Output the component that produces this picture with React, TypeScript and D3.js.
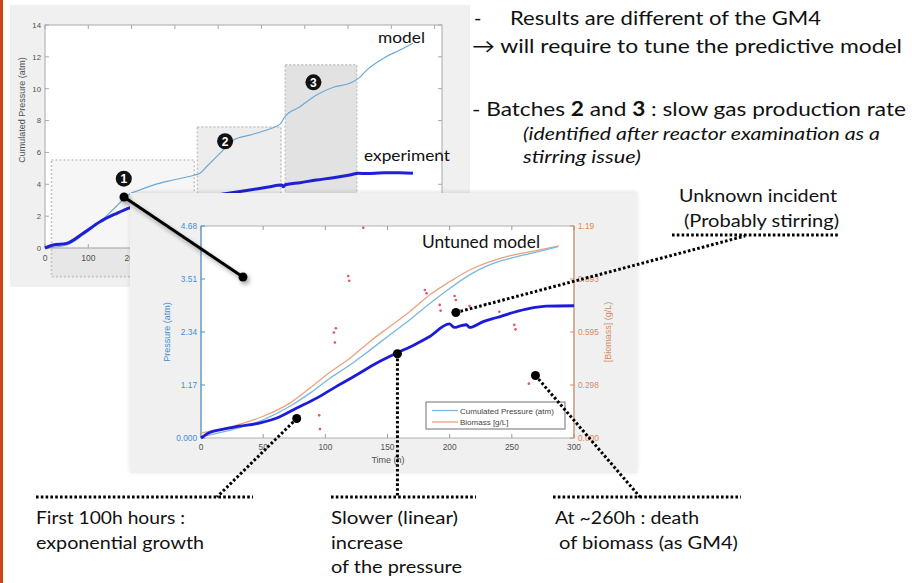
import React from "react";
import * as d3 from "d3";

// ---------- Upper chart (all batches) ----------
const upperXTicks = [0, 100, 200, 300, 400, 500, 600, 700, 800, 900];
const upperYTicks = [0, 2, 4, 6, 8, 10, 12, 14];
const upperModelT = [0, 50, 88, 127, 166, 192, 219, 250, 296, 346, 358, 373, 404, 435, 473, 512, 543, 554, 589, 627, 666, 704, 724, 743, 781, 820, 850];
const upperModelP = [0, 0.19, 0.82, 1.65, 2.65, 3.33, 3.64, 3.95, 4.27, 4.58, 4.69, 5.1, 5.94, 6.78, 7.09, 7.41, 7.78, 8.24, 8.87, 9.6, 10.09, 10.34, 10.65, 11.17, 11.9, 12.43, 12.85];
const upperExpT = [0, 19, 50, 88, 127, 166, 192, 250, 300, 350, 390, 420, 473, 512, 547, 550, 555, 589, 627, 666, 704, 724, 743, 781, 820, 850];
const upperExpP = [0, 0.19, 0.29, 0.92, 1.65, 2.18, 2.49, 2.85, 3.05, 3.2, 3.3, 3.43, 3.64, 3.81, 3.95, 3.85, 3.97, 4.1, 4.27, 4.41, 4.58, 4.69, 4.67, 4.73, 4.73, 4.69];
const batchLabels = ["1", "2", "3"];
const batchStart = [15, 352, 555];
const batchEnd = [345, 545, 720];
const batchTop = [5.52, 7.6, 11.5];
const batchLabelT = [182, 416, 620];
const batchLabelP = [4.35, 6.7, 10.4];

// ---------- Lower chart (batch 1, untuned model) ----------
const lowerXTicks = [0, 50, 100, 150, 200, 250, 300];
const pressureTicks = [0, 1.17, 2.34, 3.51, 4.68];
const pressureTickLabels = ["0.000", "1.17", "2.34", "3.51", "4.68"];
const biomassTicks = [0, 0.2975, 0.595, 0.8925, 1.19];
const biomassTickLabels = ["0.000", "0.298", "0.595", "0.893", "1.19"];
const expT = [0, 7, 15, 31, 47, 61, 77, 93, 109, 125, 141, 157, 171, 184, 199.6, 204, 208, 213.6, 216, 227, 238, 251, 264.5, 278, 300];
const expP = [0, 0.12, 0.18, 0.26, 0.33, 0.44, 0.66, 0.88, 1.14, 1.39, 1.65, 1.87, 2.05, 2.24, 2.52, 2.44, 2.47, 2.5, 2.44, 2.57, 2.66, 2.77, 2.86, 2.91, 2.92];
const modelT = [0, 23, 50, 71.5, 87.6, 103.7, 119.8, 135.9, 152, 168, 184, 200, 216, 232, 248, 264.5, 278, 287];
const modelP = [0.03, 0.17, 0.4, 0.7, 0.99, 1.32, 1.61, 1.94, 2.28, 2.61, 2.97, 3.3, 3.6, 3.82, 3.96, 4.07, 4.16, 4.22];
const biomassT = [0, 23, 50, 71.5, 87.6, 103.7, 119.8, 135.9, 152, 168, 184, 200, 216, 232, 248, 264.5, 288];
const biomassB = [0.028, 0.061, 0.122, 0.196, 0.28, 0.369, 0.448, 0.542, 0.626, 0.71, 0.804, 0.877, 0.943, 0.989, 1.022, 1.045, 1.078];
const measT = [95.1, 95.7, 106.9, 108.5, 107.7, 118.4, 119.2, 130.5, 180, 181.4, 192, 192.7, 204, 205, 216, 229, 240, 252, 253, 263.7];
const measB = [0.127, 0.05, 0.592, 0.616, 0.536, 0.909, 0.883, 1.18, 0.831, 0.812, 0.747, 0.715, 0.797, 0.775, 0.741, 0.752, 0.709, 0.635, 0.61, 0.305];

// ---------- Annotation anchors (data coordinates of the lower chart) ----------
const incidentT = 205; const incidentP = 2.77;
const expoT = 77; const expoP = 0.43;
const linearT = 158; const linearP = 1.86;
const deathT = 269; const deathP = 1.38;

const slideFont = "Lato, 'Noto Sans', sans-serif";
const axisFont = "'Liberation Sans', Arial, sans-serif";

function T(props: any) {
  const { w, children, size = 18, italic = false, ...rest } = props;
  return (
    <text
      fontSize={size}
      fill="#111"
      fontFamily={slideFont}
      fontStyle={italic ? "italic" : "normal"}
      textLength={w}
      lengthAdjust="spacingAndGlyphs"
      {...rest}
    >
      {children}
    </text>
  );
}

export default function App() {
  const ux = d3.scaleLinear().domain([0, 917]).range([45, 442]);
  const uy = d3.scaleLinear().domain([0, 14]).range([248, 25]);
  const lx = d3.scaleLinear().domain([0, 300]).range([201, 574]);
  const ly = d3.scaleLinear().domain([0, 4.68]).range([438, 226]);
  const ry = d3.scaleLinear().domain([0, 1.19]).range([438, 226]);

  const mkLine = (xs: number[], ys: number[], sx: any, sy: any) =>
    d3.line<number>().x((t) => sx(t)).y((_, i) => sy(ys[i])).curve(d3.curveMonotoneX)(xs) || "";

  const dotted = { stroke: "#000", strokeWidth: 3, strokeDasharray: "2.6 2.2", fill: "none" } as const;

  const blue = "#3f8fd2";
  const orange = "#d98a5e";
  const axisGray = "#505050";

  const aInc = [lx(incidentT), ly(incidentP)];
  const aExp = [lx(expoT), ly(expoP)];
  const aLin = [lx(linearT), ly(linearP)];
  const aDeath = [lx(deathT), ly(deathP)];

  return (
    <svg width={912} height={583} style={{ position: "absolute", left: 0, top: 0, background: "#fff" }}>
      <defs>
        <filter id="shadow" x="-20%" y="-20%" width="140%" height="140%">
          <feDropShadow dx="2" dy="3" stdDeviation="2" floodColor="#000" floodOpacity="0.35" />
        </filter>
        <filter id="panelShadow" x="-5%" y="-5%" width="110%" height="110%">
          <feDropShadow dx="0" dy="-1" stdDeviation="2" floodColor="#000" floodOpacity="0.12" />
        </filter>
      </defs>
      <rect x={0} y={0} width={3} height={583} fill="#c8461c" />

      {/* ======== Upper chart ======== */}
      <rect x={10} y={5} width={460} height={282} fill="#f0f0f0" />
      <rect x={45} y={25} width={397} height={223} fill="#fff" stroke="#a8a8a8" strokeWidth={1} />
      {batchStart.map((s, i) => (
        <rect
          key={"b" + i}
          x={ux(s)}
          y={uy(batchTop[i])}
          width={ux(batchEnd[i]) - ux(s)}
          height={uy(-1.8) - uy(batchTop[i])}
          fill={["rgba(0,0,0,0.035)", "rgba(0,0,0,0.07)", "rgba(0,0,0,0.115)"][i]}
          stroke="#c4c4c4"
          strokeWidth={1.6}
          strokeDasharray="2 2"
        />
      ))}
      {upperXTicks.map((t) => (
        <g key={"ux" + t}>
          <line x1={ux(t)} x2={ux(t)} y1={248} y2={244} stroke="#a8a8a8" />
          <line x1={ux(t)} x2={ux(t)} y1={25} y2={29} stroke="#a8a8a8" />
          <text x={ux(t)} y={261} fontSize={8.5} fill={axisGray} fontFamily={axisFont} textAnchor="middle">{t}</text>
        </g>
      ))}
      {upperYTicks.map((t) => (
        <g key={"uy" + t}>
          <line x1={45} x2={49} y1={uy(t)} y2={uy(t)} stroke="#a8a8a8" />
          <line x1={442} x2={438} y1={uy(t)} y2={uy(t)} stroke="#a8a8a8" />
          <text x={41} y={uy(t) + 2.8} fontSize={7.8} fill={axisGray} fontFamily={axisFont} textAnchor="end">{t}</text>
        </g>
      ))}
      <text transform="translate(25,110) rotate(-90)" fontSize={9} fill={axisGray} fontFamily={axisFont} textAnchor="middle">Cumulated Pressure (atm)</text>
      <path d={mkLine(upperModelT, upperModelP, ux, uy)} stroke="#6aa8d8" strokeWidth={1.2} fill="none" />
      <path d={mkLine(upperExpT, upperExpP, ux, uy)} stroke="#1f1fd6" strokeWidth={3} fill="none" />
      {batchLabels.map((b, i) => (
        <g key={"bl" + i}>
          <circle cx={ux(batchLabelT[i])} cy={uy(batchLabelP[i])} r={8} fill="#111" />
          <text x={ux(batchLabelT[i])} y={uy(batchLabelP[i]) + 4.5} fontSize={12} fontWeight="bold" fill="#fff" fontFamily={axisFont} textAnchor="middle">{b}</text>
        </g>
      ))}
      <T x={378} y={43} size={16} w={47}>model</T>
      <T x={364} y={161} size={16} w={86}>experiment</T>

      {/* ======== Lower chart ======== */}
      <rect x={130} y={193} width={507} height={280} fill="#f0f0f0" filter="url(#panelShadow)" />
      <rect x={201} y={226} width={373} height={212} fill="#fff" stroke="#b0b0b0" strokeWidth={1} />
      <line x1={201} x2={201} y1={226} y2={438} stroke={blue} strokeWidth={1} />
      <line x1={574} x2={574} y1={226} y2={438} stroke={orange} strokeWidth={1} />
      {lowerXTicks.map((t) => (
        <g key={"lx" + t}>
          <line x1={lx(t)} x2={lx(t)} y1={438} y2={434} stroke="#999" />
          <line x1={lx(t)} x2={lx(t)} y1={226} y2={230} stroke="#999" />
          <text x={lx(t)} y={450} fontSize={8.3} fill={axisGray} fontFamily={axisFont} textAnchor="middle">{t}</text>
        </g>
      ))}
      <text x={388} y={463} fontSize={9} fill={axisGray} fontFamily={axisFont} textAnchor="middle">Time (h)</text>
      {pressureTicks.map((t, i) => (
        <g key={"ly" + t}>
          <line x1={201} x2={205} y1={ly(t)} y2={ly(t)} stroke={blue} />
          <text x={197} y={ly(t) + 2.8} fontSize={8.3} fill={blue} fontFamily={axisFont} textAnchor="end">{pressureTickLabels[i]}</text>
        </g>
      ))}
      {biomassTicks.map((t, i) => (
        <g key={"ry" + t}>
          <line x1={574} x2={570} y1={ry(t)} y2={ry(t)} stroke={orange} />
          <text x={578} y={ry(t) + 2.8} fontSize={8.3} fill={orange} fontFamily={axisFont} textAnchor="start">{biomassTickLabels[i]}</text>
        </g>
      ))}
      <text transform="translate(170,332) rotate(-90)" fontSize={9} fill={blue} fontFamily={axisFont} textAnchor="middle">Pressure (atm)</text>
      <text transform="translate(611,332) rotate(-90)" fontSize={9} fill={orange} fontFamily={axisFont} textAnchor="middle">[Biomass] (g/L)</text>

      <path d={mkLine(biomassT, biomassB, lx, ry)} stroke="#eaa380" strokeWidth={1.3} fill="none" />
      <path d={mkLine(modelT, modelP, lx, ly)} stroke="#7ab8e2" strokeWidth={1.3} fill="none" />
      <path d={mkLine(expT, expP, lx, ly)} stroke="#1c1cd8" strokeWidth={2.8} fill="none" />
      {measT.map((t, i) => (
        <circle key={"m" + i} cx={lx(t)} cy={ry(measB[i])} r={1.3} fill="#e4526a" />
      ))}

      {/* legend */}
      <rect x={426} y={402} width={139} height={27} fill="#fff" stroke="#888" strokeWidth={1.2} />
      <line x1={432} x2={458} y1={410.5} y2={410.5} stroke="#7ab8e2" strokeWidth={1.3} />
      <line x1={432} x2={458} y1={422} y2={422} stroke="#eaa380" strokeWidth={1.3} />
      <text x={460} y={413.5} fontSize={8} fill="#444" fontFamily={axisFont}>Cumulated Pressure (atm)</text>
      <text x={460} y={425} fontSize={8} fill="#444" fontFamily={axisFont}>Biomass [g/L]</text>

      <T x={422} y={248} size={18} w={118}>Untuned model</T>

      {/* link from batch 1 to zoomed chart */}
      <g filter="url(#shadow)">
        <line x1={124} y1={197} x2={243} y2={277} stroke="#000" strokeWidth={3} />
        <circle cx={124} cy={197} r={4.5} fill="#000" />
        <circle cx={243} cy={277} r={4.5} fill="#000" />
      </g>

      {/* ======== Annotations ======== */}
      <circle cx={aInc[0]} cy={aInc[1]} r={4.5} fill="#000" />
      <line x1={aInc[0]} y1={aInc[1]} x2={745} y2={236} style={dotted} />
      <line x1={672} y1={235} x2={840} y2={235} style={dotted} />
      <T x={679} y={202} size={18} w={158}>Unknown incident</T>
      <T x={684} y={227} size={18} w={155}>(Probably stirring)</T>

      <circle cx={aExp[0]} cy={aExp[1]} r={4.5} fill="#000" />
      <line x1={aExp[0]} y1={aExp[1]} x2={217} y2={497} style={dotted} />
      <line x1={36} y1={497} x2={253} y2={497} style={dotted} />
      <T x={36} y={524} w={149}>First 100h hours :</T>
      <T x={36} y={549} w={168}>exponential growth</T>

      <circle cx={aLin[0]} cy={aLin[1]} r={4.5} fill="#000" />
      <line x1={aLin[0]} y1={aLin[1]} x2={aLin[0]} y2={497} style={dotted} />
      <line x1={331} y1={497} x2={476} y2={497} style={dotted} />
      <T x={331} y={524} w={127}>Slower (linear)</T>
      <T x={331} y={549} w={72}>increase</T>
      <T x={331} y={573} w={131}>of the pressure</T>

      <circle cx={aDeath[0]} cy={aDeath[1]} r={4.5} fill="#000" />
      <line x1={aDeath[0]} y1={aDeath[1]} x2={640} y2={497} style={dotted} />
      <line x1={553} y1={497} x2={741} y2={497} style={dotted} />
      <T x={555} y={524} w={144}>At ~260h : death</T>
      <T x={559} y={549} w={179}>of biomass (as GM4)</T>

      {/* right-hand bullet text */}
      <T x={474} y={25} size={20}>-</T>
      <T x={510} y={25} size={20} w={311}>Results are different of the GM4</T>
      <T x={472} y={53} size={20} w={430}>→ will require to tune the predictive model</T>
      <T x={472} y={116} size={20} w={434}>
        - Batches <tspan fontWeight="bold">2</tspan> and <tspan fontWeight="bold">3</tspan>  : slow gas production rate
      </T>
      <T x={523} y={140} size={18} italic w={357}>(identified after reactor examination as a</T>
      <T x={523} y={163} size={18} italic w={118}>stirring issue)</T>
    </svg>
  );
}
